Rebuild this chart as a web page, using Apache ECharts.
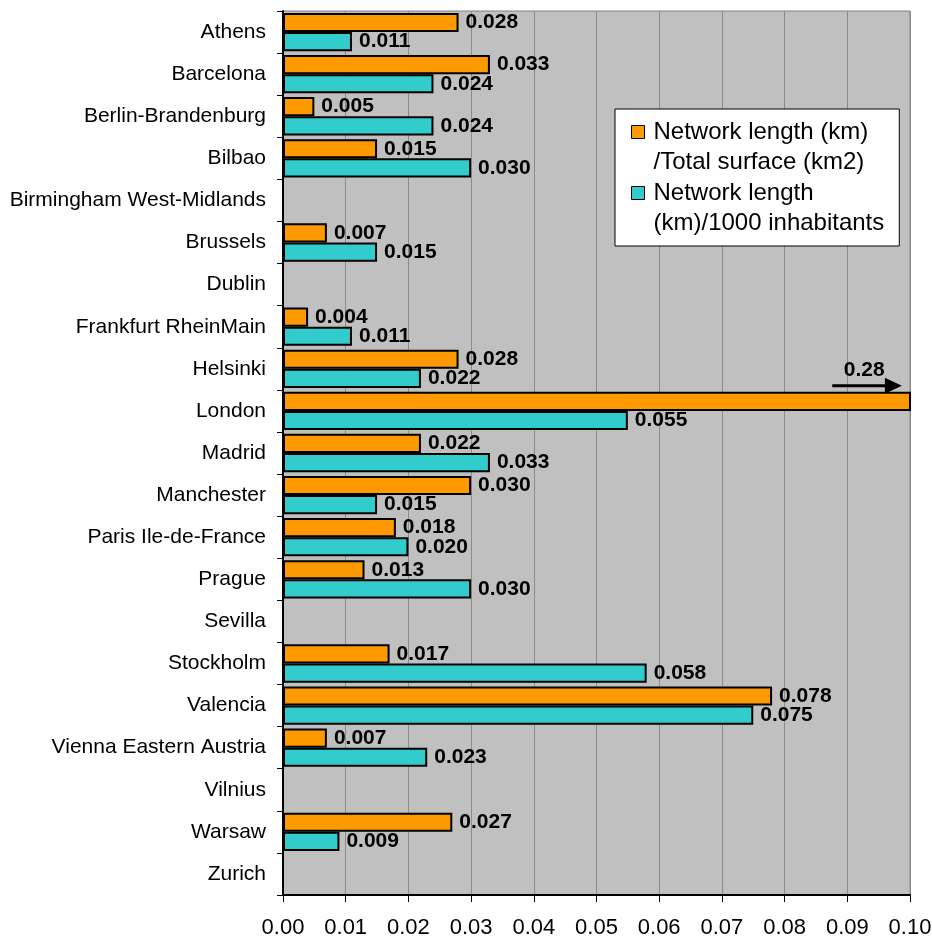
<!DOCTYPE html>
<html>
<head>
<meta charset="utf-8">
<script src="https://cdn.jsdelivr.net/npm/echarts@6/dist/echarts.min.js"></script>
<style>
  html, body { margin: 0; padding: 0; background: #fff; }
  #chart { width: 932px; height: 943px; }
</style>
</head>
<body>
<div id="chart"></div>
<script>
const cities = ['Athens', 'Barcelona', 'Berlin-Brandenburg', 'Bilbao', 'Birmingham West-Midlands',
    'Brussels', 'Dublin', 'Frankfurt RheinMain', 'Helsinki', 'London', 'Madrid', 'Manchester',
    'Paris Ile-de-France', 'Prague', 'Sevilla', 'Stockholm', 'Valencia', 'Vienna Eastern Austria',
    'Vilnius', 'Warsaw', 'Zurich'];
const surfaceValues = [0.028, 0.033, 0.005, 0.015, null, 0.007, null, 0.004, 0.028, 0.28, 0.022,
    0.030, 0.018, 0.013, null, 0.017, 0.078, 0.007, null, 0.027, null];
const inhabitantValues = [0.011, 0.024, 0.024, 0.030, null, 0.015, null, 0.011, 0.022, 0.055, 0.033,
    0.015, 0.020, 0.030, null, 0.058, 0.075, 0.023, null, 0.009, null];
const seriesNames = ['Network length (km)\n/Total surface (km2)', 'Network length\n(km)/1000 inhabitants'];
const xMin = 0, xMax = 0.1, xStep = 0.01;

const font = "'Liberation Sans', Arial, sans-serif";
// square in the top part of a taller box, so the icon sits on the first text line
const legendIcon = 'path://M0,0L13,0L13,13L0,13ZM17,43';

let chart = echarts.init(document.getElementById('chart'));

let valueLabel = {
    show: true,
    position: 'right',
    distance: 7,
    color: '#000',
    fontFamily: font,
    fontWeight: 'bold',
    fontSize: 21,
    formatter: p => (p.value == null ? '' : (+p.value).toFixed(3))
};

chart.setOption({
    animation: false,
    textStyle: { fontFamily: font },
    grid: {
        left: 283, right: 22, top: 11, bottom: 48,
        show: true,
        backgroundColor: '#c0c0c0',
        borderColor: '#808080',
        borderWidth: 1,
        outerBoundsMode: 'none'
    },
    legend: {
        data: seriesNames,
        orient: 'vertical',
        left: 615,
        top: 109,
        padding: [8, 15, 8, 16],
        itemGap: 1,
        itemWidth: 17,
        itemHeight: 43,
        icon: legendIcon,
        backgroundColor: '#fff',
        borderColor: '#000',
        borderWidth: 1,
        borderRadius: 0,
        itemStyle: { borderColor: '#000', borderWidth: 1 },
        textStyle: { color: '#000', fontFamily: font, fontSize: 24, lineHeight: 30 }
    },
    xAxis: {
        type: 'value',
        min: xMin,
        max: xMax,
        interval: xStep,
        axisLine: { show: true, lineStyle: { color: '#000', width: 2 } },
        axisTick: { show: true, length: 7, lineStyle: { color: '#000', width: 1 } },
        axisLabel: {
            color: '#000', fontFamily: font, fontSize: 22, margin: 22,
            formatter: v => v.toFixed(2)
        },
        splitLine: { show: true, lineStyle: { color: '#8c8c8c', width: 1 } }
    },
    yAxis: {
        type: 'category',
        data: cities,
        inverse: true,
        axisLine: { show: true, lineStyle: { color: '#000', width: 2 } },
        axisTick: { show: true, length: 6, lineStyle: { color: '#000', width: 1 } },
        axisLabel: { color: '#000', fontFamily: font, fontSize: 21, margin: 17 },
        splitLine: { show: false }
    },
    series: [
        {
            name: seriesNames[0],
            type: 'bar',
            barGap: '0%',
            barCategoryGap: '9%',
            clip: true,
            itemStyle: { color: '#ff9900', borderColor: '#000', borderWidth: 2 },
            label: valueLabel,
            data: surfaceValues.map(v => (v != null && v > xMax) ? { value: v, label: { show: false } } : (v == null ? '-' : v))
        },
        {
            name: seriesNames[1],
            type: 'bar',
            barGap: '0%',
            barCategoryGap: '9%',
            clip: true,
            itemStyle: { color: '#33cccc', borderColor: '#000', borderWidth: 2 },
            label: valueLabel,
            data: inhabitantValues.map(v => (v == null ? '-' : v))
        }
    ]
});

// value beyond the axis max: write it above the clipped bar with an arrow
let over = surfaceValues.findIndex(v => v != null && v > xMax);
if (over >= 0) {
    let toPx = d => chart.convertToPixel({ xAxisIndex: 0, yAxisIndex: 0 }, d);
    let pStart = toPx([0.0876, over]);
    let pEnd = toPx([0.0987, over]);
    let pText = toPx([0.0927, over]);
    let band = toPx([0, over])[1] - toPx([0, over - 1])[1];
    let yArrow = pStart[1] - band / 2 - 4;
    chart.setOption({
        graphic: [
            {
                type: 'line',
                shape: { x1: pStart[0], y1: yArrow, x2: pEnd[0] - 14, y2: yArrow },
                style: { stroke: '#000', lineWidth: 3 },
                z: 100
            },
            {
                type: 'polygon',
                shape: { points: [[pEnd[0] - 17, yArrow - 8], [pEnd[0], yArrow], [pEnd[0] - 17, yArrow + 8]] },
                style: { fill: '#000' },
                z: 100
            },
            {
                type: 'text',
                x: pText[0],
                y: yArrow - 16,
                style: {
                    text: surfaceValues[over].toFixed(2),
                    fill: '#000',
                    font: 'bold 21px ' + font,
                    align: 'center',
                    verticalAlign: 'middle'
                },
                z: 100
            }
        ]
    });
}
</script>
</body>
</html>
